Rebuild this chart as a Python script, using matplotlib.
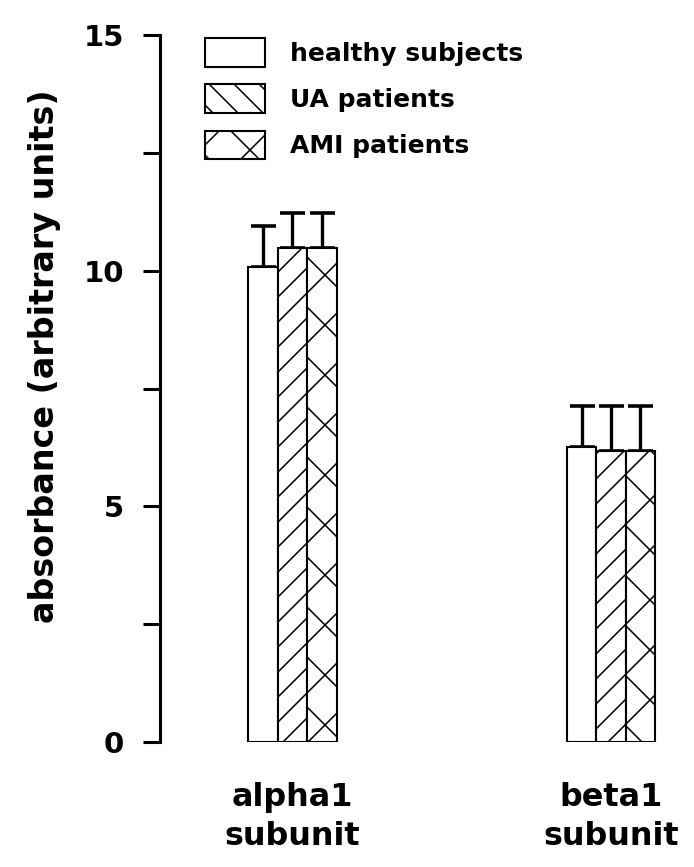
import numpy as np
import matplotlib.pyplot as plt
from matplotlib.patches import Patch

# se guarda a 150 dpi para que la trama quede tan abierta como en el original;
# K pasa los tamaños pensados a 100 dpi
DPI = 150
K = 100 / DPI

plt.rcParams['font.family'] = 'DejaVu Sans'
plt.rcParams['font.weight'] = 'bold'
plt.rcParams['hatch.linewidth'] = 0.75

# datos
subunidades = ['alpha1\nsubunit', 'beta1\nsubunit']
grupos = ['healthy subjects', 'UA patients', 'AMI patients']
medias = {
    'healthy subjects': [10.08, 6.25],
    'UA patients': [10.48, 6.18],
    'AMI patients': [10.48, 6.18],
}
errores = {
    'healthy subjects': [0.87, 0.88],
    'UA patients': [0.74, 0.95],
    'AMI patients': [0.74, 0.95],
}
tramas = ['', '//', 'x']
tramas_leyenda = ['', '\\\\', 'x']

fig = plt.figure(figsize=(694 / DPI, 867 / DPI), dpi=DPI)
ax = fig.add_axes([160 / 694, 1 - 742 / 867, 534 / 694, 707 / 867])

x = np.arange(len(subunidades))
ancho = 0.0926
for i, g in enumerate(grupos):
    pos = x + (i - 1) * ancho
    ax.bar(pos, medias[g], width=ancho, color='white', edgecolor='black',
           linewidth=1.5 * K, hatch=tramas[i], zorder=2)
    ax.errorbar(pos, medias[g], yerr=[np.zeros(len(x)), errores[g]],
                fmt='none', ecolor='black', elinewidth=2.4 * K, capsize=9 * K,
                capthick=2.6 * K, zorder=1)

ax.set_xlim(-0.416, -0.416 + 534 / 318.5)
ax.set_ylim(0, 15)
ax.set_yticks([0, 5, 10, 15])
ax.set_yticks([2.5, 7.5, 12.5], minor=True)
ax.set_xticks(x)
ax.set_xticklabels(subunidades, fontsize=23 * K, fontweight='bold', linespacing=1.33)
ax.tick_params(axis='x', length=0, pad=29 * K)
ax.tick_params(axis='y', which='both', length=12 * K, width=2.2 * K,
               labelsize=21 * K, pad=14 * K)
for lab in ax.get_yticklabels():
    lab.set_fontweight('bold')

for s in ['top', 'right', 'bottom']:
    ax.spines[s].set_visible(False)
ax.spines['left'].set_linewidth(2.2 * K)

ax.set_ylabel('absorbance (arbitrary units)', fontsize=24 * K, fontweight='bold')
ax.yaxis.set_label_coords(-0.185, 0.546)

manijas = [Patch(facecolor='white', edgecolor='black', linewidth=1.5 * K, hatch=h)
           for h in tramas_leyenda]
ax.legend(manijas, grupos, loc='upper left', bbox_to_anchor=(0.084, 0.996),
          frameon=False, borderpad=0, borderaxespad=0, handlelength=2.4,
          handleheight=1.4, handletextpad=1.0, labelspacing=0.7,
          prop={'size': 18 * K, 'weight': 'bold'})

fig.savefig('out.png', dpi=DPI)
